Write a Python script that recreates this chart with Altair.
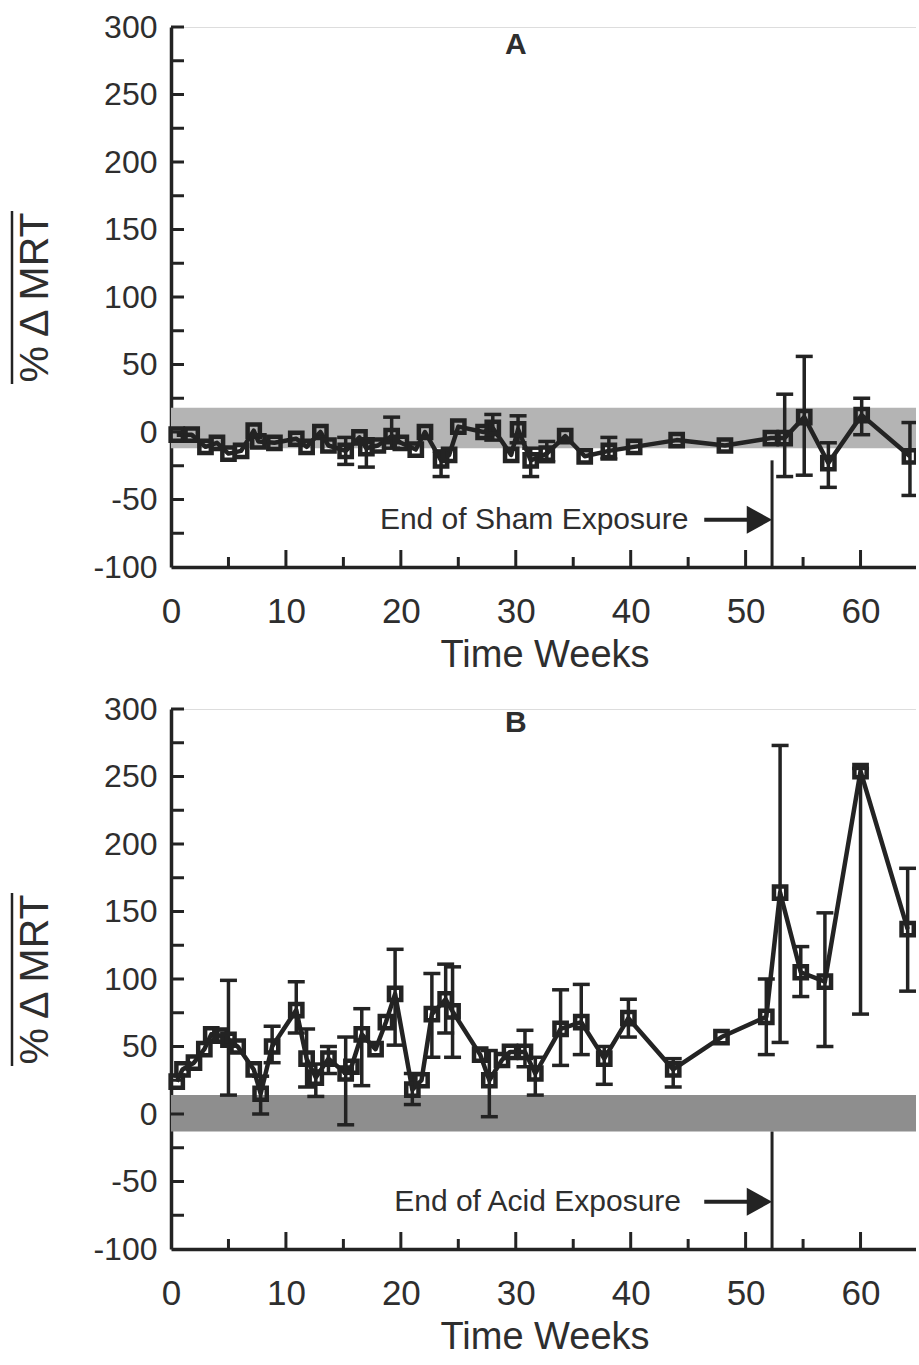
import altair as alt
import pandas as pd

FONT = "Liberation Sans, Arial, Helvetica, sans-serif"
INK = "#232323"
TXT = "#2e2e2e"

# ---------------- data: panel A (sham) ----------------
weeks_a = [0.5, 1.8, 3, 4, 5, 6.1, 7.2, 7.6, 9, 10.9, 11.8, 13, 13.7, 15.2, 16.4, 17, 18,
           19.2, 20, 21.3, 22.1, 23.5, 24.2, 25, 27.2, 28, 29.6, 30.2, 31.3, 32.7, 34.3, 36,
           38.1, 40.3, 44, 48.2, 52.2, 53.4, 55.1, 57.2, 60.1, 64.3]
mean_a = [-2, -2, -11, -8, -16, -14, 1, -7, -8, -5, -11, 0, -10, -14, -4, -12, -10,
          -3, -8, -13, 0, -21, -17, 4, 0, 3, -17, 2, -21, -16, -3, -18,
          -14, -11, -6, -10, -4.5, -4.5, 11, -23, 12.5, -18]
low_a = [-2, -2, -11, -8, -16, -14, 1, -7, -8, -5, -11, 0, -10, -24, -4, -26, -10,
         -12, -8, -13, 0, -33, -17, 4, 0, -6, -17, -8, -33, -22, -3, -18,
         -20, -11, -6, -10, -4.5, -33, -32, -41, -2, -47]
high_a = [-2, -2, -11, -8, -16, -14, 1, -7, -8, -5, -11, 0, -10, -4, -4, -5, -10,
          11, -8, -13, 0, -14, -17, 4, 0, 13, -17, 12, -12, -7, -3, -18,
          -4, -11, -6, -10, -4.5, 28, 56, -8, 25, 7]

# ---------------- data: panel B (acid) ----------------
weeks_b = [0.5, 1, 2, 2.9, 3.5, 4.3, 5, 5.8, 7.2, 7.8, 8.8, 10.9, 11.8, 12.6, 13.7, 15.2,
           15.7, 16.6, 17.8, 18.7, 19.5, 21, 21.8, 22.7, 23.9, 24.5, 26.9, 27.7, 28.8, 29.5,
           30.8, 31.7, 33.9, 35.7, 37.7, 39.8, 43.7, 47.9, 51.8, 53, 54.8, 56.9, 60, 64.1]
mean_b = [24, 33, 38, 48, 59, 58, 55, 50, 33, 15, 50, 77, 41, 27, 41, 30,
          35, 59, 48, 68, 89, 18, 25, 74, 85, 76, 44, 25, 40, 46,
          46, 30, 63, 68, 41, 71, 33, 57, 72, 164, 105, 98, 254, 137]
low_b = [24, 33, 38, 48, 59, 58, 14, 50, 33, 0, 38, 60, 20, 13, 30, -8,
         35, 21, 48, 68, 51, 7, 25, 42, 60, 42, 44, -2, 40, 46,
         35, 14, 36, 44, 22, 57, 20, 57, 44, 53, 87, 50, 74, 91]
high_b = [24, 33, 38, 48, 59, 58, 99, 50, 33, 28, 65, 98, 63, 37, 50, 57,
          35, 78, 48, 68, 122, 30, 25, 104, 111, 109, 44, 47, 40, 46,
          62, 42, 92, 96, 50, 85, 41, 57, 100, 273, 124, 149, 256, 182]

band_a = [-12, 18]
band_b = [-13, 14]
end_week = 52.3
end_top_a = -21
end_top_b = -13

x_major = [0, 10, 20, 30, 40, 50, 60]
x_minor = [5, 15, 25, 35, 45, 55]
y_ticks = [-75, -50, -25, 0, 25, 50, 75, 100, 125, 150, 175, 200, 225, 250, 275, 300]
y_labels = [-100, -50, 0, 50, 100, 150, 200, 250, 300]

W, H = 747, 540

x_scale = alt.Scale(domain=[0, 65], nice=False, zero=False)
y_scale = alt.Scale(domain=[-100, 300], nice=False, zero=False)

x_axis = alt.Axis(values=x_major, title="Time Weeks", ticks=False, tickSize=0, grid=False,
                  domainColor=INK, domainWidth=3.5, labelFontSize=35, labelPadding=27,
                  labelFont=FONT, labelColor=TXT, titleFont=FONT, titleFontSize=38,
                  titleFontWeight="normal", titleColor=TXT, titlePadding=7,
                  labelExpr="'' + datum.value", labelFlush=False, labelOverlap=False)
y_axis = alt.Axis(values=y_labels, title="% Δ MRT", ticks=False, tickSize=0, grid=False,
                  domainColor=INK, domainWidth=3.5, labelFontSize=32, labelPadding=14,
                  labelFont=FONT, labelColor=TXT, titleFont=FONT, titleFontSize=41,
                  titleFontWeight="normal", titleColor=TXT, titlePadding=36,
                  labelExpr="'' + datum.value", labelFlush=False, labelOverlap=False)


def X(f):
    return alt.X(f, type="quantitative", scale=x_scale, axis=x_axis)


def Y(f):
    return alt.Y(f, type="quantitative", scale=y_scale, axis=y_axis)


def panel(weeks, mean, low, high, band, band_color, letter, letter_y, note, note_x, end_top):
    df = pd.DataFrame({"week": weeks, "mean": mean, "lo": low, "hi": high})
    err = df[df["lo"] != df["hi"]]

    band_df = pd.DataFrame({"x0": [0], "x1": [65], "lo": [band[0]], "hi": [band[1]]})
    band_l = alt.Chart(band_df).mark_rect(color=band_color).encode(
        x=X("x0"), x2="x1", y=Y("lo"), y2="hi")

    end_df = pd.DataFrame({"w": [end_week], "y0": [-100], "y1": [end_top]})
    end_l = alt.Chart(end_df).mark_rule(color=INK, strokeWidth=3).encode(
        x=X("w"), y=Y("y0"), y2="y1")

    arrow_df = pd.DataFrame({"x0": [46.4], "x1": [50.5], "y": [-65]})
    shaft = alt.Chart(arrow_df).mark_rule(color=INK, strokeWidth=4).encode(
        x=X("x0"), x2="x1", y=Y("y"))
    head_df = pd.DataFrame({"x": [51.2], "y": [-65]})
    head = alt.Chart(head_df).mark_point(
        shape="M-1,-1.1L1,0L-1,1.1Z", filled=True, color=INK, size=640, opacity=1
    ).encode(x=X("x"), y=Y("y"))

    note_df = pd.DataFrame({"x": [note_x], "y": [-65], "t": [note]})
    note_l = alt.Chart(note_df).mark_text(font=FONT, fontSize=30, color=TXT,
                                          align="center", baseline="middle").encode(
        x=X("x"), y=Y("y"), text="t:N")

    let_df = pd.DataFrame({"x": [30], "y": [letter_y], "t": [letter]})
    let_l = alt.Chart(let_df).mark_text(font=FONT, fontSize=30, fontWeight="bold", color=TXT,
                                        align="center", baseline="middle").encode(
        x=X("x"), y=Y("y"), text="t:N")

    err_rule = alt.Chart(err).mark_rule(color=INK, strokeWidth=3.5).encode(
        x=X("week"), y=Y("lo"), y2="hi")
    cap_lo = alt.Chart(err).mark_tick(color=INK, orient="horizontal", size=17, thickness=3.5,
                                      opacity=1).encode(x=X("week"), y=Y("lo"))
    cap_hi = alt.Chart(err).mark_tick(color=INK, orient="horizontal", size=17, thickness=3.5,
                                      opacity=1).encode(x=X("week"), y=Y("hi"))

    line = alt.Chart(df).mark_line(color=INK, strokeWidth=4.5, strokeJoin="round").encode(
        x=X("week"), y=Y("mean"))
    pts = alt.Chart(df).mark_point(shape="square", filled=False, size=150, strokeWidth=4.5,
                                   color=INK, opacity=1).encode(x=X("week"), y=Y("mean"))

    yt = alt.Chart(pd.DataFrame({"t": y_ticks})).mark_rule(color=INK, strokeWidth=3).encode(
        y=Y("t"), x=alt.value(0), x2=alt.value(13))
    xt_major = alt.Chart(pd.DataFrame({"t": x_major[1:]})).mark_rule(color=INK, strokeWidth=3).encode(
        x=X("t"), y=alt.value(H), y2=alt.value(H - 17))
    xt_minor = alt.Chart(pd.DataFrame({"t": x_minor})).mark_rule(color=INK, strokeWidth=3).encode(
        x=X("t"), y=alt.value(H), y2=alt.value(H - 10))

    overline = alt.Chart(pd.DataFrame({"a": [0]})).mark_rule(color=INK, strokeWidth=2.5).encode(
        x=alt.value(-159), y=alt.value(184), y2=alt.value(357))

    return alt.layer(band_l, end_l, shaft, head, note_l, let_l, err_rule, cap_lo, cap_hi,
                     line, pts, yt, xt_major, xt_minor, overline).properties(width=W, height=H)


pa = panel(weeks_a, mean_a, low_a, high_a, band_a, "#b4b4b4", "A", 287,
           "End of Sham Exposure", 31.6, end_top_a)
pb = panel(weeks_b, mean_b, low_b, high_b, band_b, "#8e8e8e", "B", 290,
           "End of Acid Exposure", 31.9, end_top_b)

chart = alt.vconcat(pa, pb, spacing=17).properties(
    padding={"left": 10, "top": 10, "right": -10, "bottom": -2}
).configure_view(stroke=None).configure(background="white")

chart.save("out.html", embed_options={"renderer": "svg", "actions": False})
